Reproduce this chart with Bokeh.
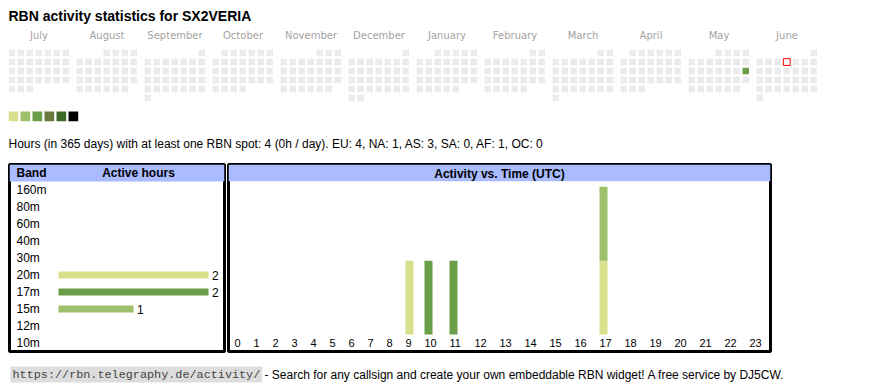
import calendar
from bokeh.plotting import figure
from bokeh.models import Range1d, FactorRange, BoxAnnotation, ColumnDataSource
from bokeh.layouts import column, row
from bokeh.embed import file_html
from bokeh.resources import INLINE
from bokeh.core.properties import value

# ---------------- data ----------------
TITLE = "RBN activity statistics for SX2VERIA"
months = ["July", "August", "September", "October", "November", "December",
          "January", "February", "March", "April", "May", "June"]
month_years = [2024, 2024, 2024, 2024, 2024, 2024, 2025, 2025, 2025, 2025, 2025, 2025]
month_numbers = [7, 8, 9, 10, 11, 12, 1, 2, 3, 4, 5, 6]
active_days = ["2025-05-18"]
active_levels = [3]          # 1..6 index into the legend palette
today = "2025-06-05"
palette = ["#d9e08b", "#9dc06b", "#6a9e48", "#687a3b", "#3e6a28", "#000000"]
summary = ("Hours (in 365 days) with at least one RBN spot: 4 (0h / day). "
           "EU: 4, NA: 1, AS: 3, SA: 0, AF: 1, OC: 0")

bands = ["160m", "80m", "60m", "40m", "30m", "20m", "17m", "15m", "12m", "10m"]
band_hours = [0, 0, 0, 0, 0, 2, 2, 1, 0, 0]
band_colors = {"20m": "#d9e08b", "17m": "#6a9e48", "15m": "#9dc06b"}

hours = [str(h) for h in range(24)]
act_20m = [0, 0, 0, 0, 0, 0, 0, 0, 0, 1, 0, 0, 0, 0, 0, 0, 0, 1, 0, 0, 0, 0, 0, 0]
act_17m = [0, 0, 0, 0, 0, 0, 0, 0, 0, 0, 1, 1, 0, 0, 0, 0, 0, 0, 0, 0, 0, 0, 0, 0]
act_15m = [0, 0, 0, 0, 0, 0, 0, 0, 0, 0, 0, 0, 0, 0, 0, 0, 0, 1, 0, 0, 0, 0, 0, 0]

URL = "https://rbn.telegraphy.de/activity/"
FOOT = "- Search for any callsign and create your own embeddable RBN widget! A free service by DJ5CW."

SANS = value("Liberation Sans")
HEADER_BG = "#aabbff"

# ---------------- top: title, calendar, legend, summary ----------------
top = figure(width=852, height=155, x_range=Range1d(8, 860), y_range=Range1d(163, 8),
             title=None, x_axis_type=None, y_axis_type=None, output_backend="svg",
             toolbar_location=None, min_border=0, outline_line_color=None)

top.text(x=[8], y=[15.5], text=[TITLE], text_font=SANS, text_font_size="14px",
         text_font_style="bold", text_color="#000000", text_baseline="middle")

block_x0, block_step, cell_step, grid_y0, cell = 8, 68, 9, 49.3, 6.5
level_of = dict(zip(active_days, active_levels))
cx, cy, cc = [], [], []
today_xy = None
for m, (yr, mo) in enumerate(zip(month_years, month_numbers)):
    first_wd, ndays = calendar.monthrange(yr, mo)
    for d in range(1, ndays + 1):
        idx = first_wd + d - 1
        x = block_x0 + m * block_step + (idx % 7) * cell_step + cell / 2
        y = grid_y0 + (idx // 7) * cell_step + cell / 2
        key = f"{yr:04d}-{mo:02d}-{d:02d}"
        cx.append(x); cy.append(y)
        cc.append(palette[level_of[key] - 1] if key in level_of else "#ebebeb")
        if key == today:
            today_xy = (x, y)
top.rect(x=cx, y=cy, width=cell, height=cell, fill_color=cc, line_color=None)
if today_xy:
    top.rect(x=[today_xy[0]], y=[today_xy[1]], width=6.8, height=6.8,
             fill_color="white", line_color="#ff0000", line_width=1)

top.text(x=[block_x0 + m * block_step + 30.5 for m in range(len(months))], y=35.3,
         text=months, text_align="center", text_baseline="middle",
         text_font=value("DejaVu Sans"), text_font_size="10px", text_color="#a3a3a3")

leg = 9.7
top.rect(x=[8 + 12 * i + leg / 2 for i in range(len(palette))], y=111 + leg / 2,
         width=leg, height=leg, fill_color=palette, line_color=None)

top.text(x=[8], y=[143], text=[summary], text_font=SANS, text_font_size="12px",
         text_color="#000000", text_baseline="middle")

# ---------------- band table ----------------
px_per_hour = 75
bar_origin = 49          # px from frame left to the bar origin
frame_w_b = 215
bp = figure(width=218, height=193, title=None,
            x_range=Range1d(-bar_origin / px_per_hour, (frame_w_b - bar_origin) / px_per_hour),
            y_range=FactorRange(factors=bands[::-1] + [" "], range_padding=0),
            x_axis_type=None, y_axis_type=None, output_backend="svg", toolbar_location=None,
            min_border_left=1, min_border_right=2, min_border_top=1, min_border_bottom=5,
            outline_line_color="black", outline_line_width=3)
bp.add_layout(BoxAnnotation(bottom=len(bands), fill_color=HEADER_BG, fill_alpha=1,
                            line_color=None, level="underlay"))
bp.text(x=0, y=[" "], text=["Band"], x_offset=-42, text_baseline="middle",
        text_font=SANS, text_font_size="12px", text_font_style="bold")
bp.text(x=0, y=[" "], text=["Active hours"], x_offset=80, text_align="center",
        text_baseline="middle", text_font=SANS, text_font_size="12px", text_font_style="bold")
bp.text(x=0, y=bands, text=bands, x_offset=-42, text_baseline="middle",
        text_font=SANS, text_font_size="12px", text_color="#000000")
act_b = [b for b, h in zip(bands, band_hours) if h > 0]
act_h = [h for h in band_hours if h > 0]
bp.hbar(y=act_b, left=0, right=act_h, height=0.41,
        fill_color=[band_colors[b] for b in act_b], line_color=None)
bp.text(x=act_h, y=act_b, text=[str(h) for h in act_h], x_offset=3.5, text_baseline="middle",
        text_font=SANS, text_font_size="12px", text_color="#000000")

# ---------------- activity vs time ----------------
cell_w = [19 if len(h) == 1 else 25 for h in hours]   # table cells sized by label width
lefts = [sum(cell_w[:i]) for i in range(len(hours))]
unit_px = 75
ap = figure(width=546, height=193, x_range=Range1d(-6, 536), title=None,
            y_range=Range1d(-17.3 / unit_px, 172.7 / unit_px),
            x_axis_type=None, y_axis_type=None, output_backend="svg", toolbar_location=None,
            min_border_left=2, min_border_right=2, min_border_top=1, min_border_bottom=2,
            outline_line_color="black", outline_line_width=3)
ap.add_layout(BoxAnnotation(bottom=155.7 / unit_px, fill_color=HEADER_BG, fill_alpha=1,
                            line_color=None, level="underlay"))
ap.text(x=[(-6 + 536) / 2], y=[172.7 / unit_px], text=["Activity vs. Time (UTC)"], y_offset=9,
        text_align="center", text_baseline="middle", text_font=SANS,
        text_font_size="12px", text_font_style="bold")
src = ColumnDataSource(dict(x=[l + 4 for l in lefts], b20=act_20m, b17=act_17m, b15=act_15m))
ap.vbar_stack(["b20", "b17", "b15"], x="x", width=8, source=src,
              fill_color=[band_colors["20m"], band_colors["17m"], band_colors["15m"]],
              line_color=None)
ap.text(x=lefts, y=0, text=hours, y_offset=9, text_baseline="middle",
        text_font=SANS, text_font_size="11px", text_color="#000000")

# ---------------- footer ----------------
fp = figure(width=852, height=30, x_range=Range1d(8, 860), y_range=Range1d(386, 356),
            title=None, x_axis_type=None, y_axis_type=None, output_backend="svg",
            toolbar_location=None, min_border=0, outline_line_color=None)
fp.text(x=[10], y=[374], text=[URL], text_font=value("Liberation Mono"), text_font_size="11.8px",
        text_color="#444444", text_baseline="middle",
        background_fill_color="#dddddd", padding=(2, 1))
fp.text(x=[264], y=[374], text=[FOOT], text_font=SANS, text_font_size="12px",
        text_color="#000000", text_baseline="middle")

layout = column(top, row(bp, ap), fp, margin=(8, 0, 0, 8))
open("out.html", "w").write(file_html(layout, INLINE))
